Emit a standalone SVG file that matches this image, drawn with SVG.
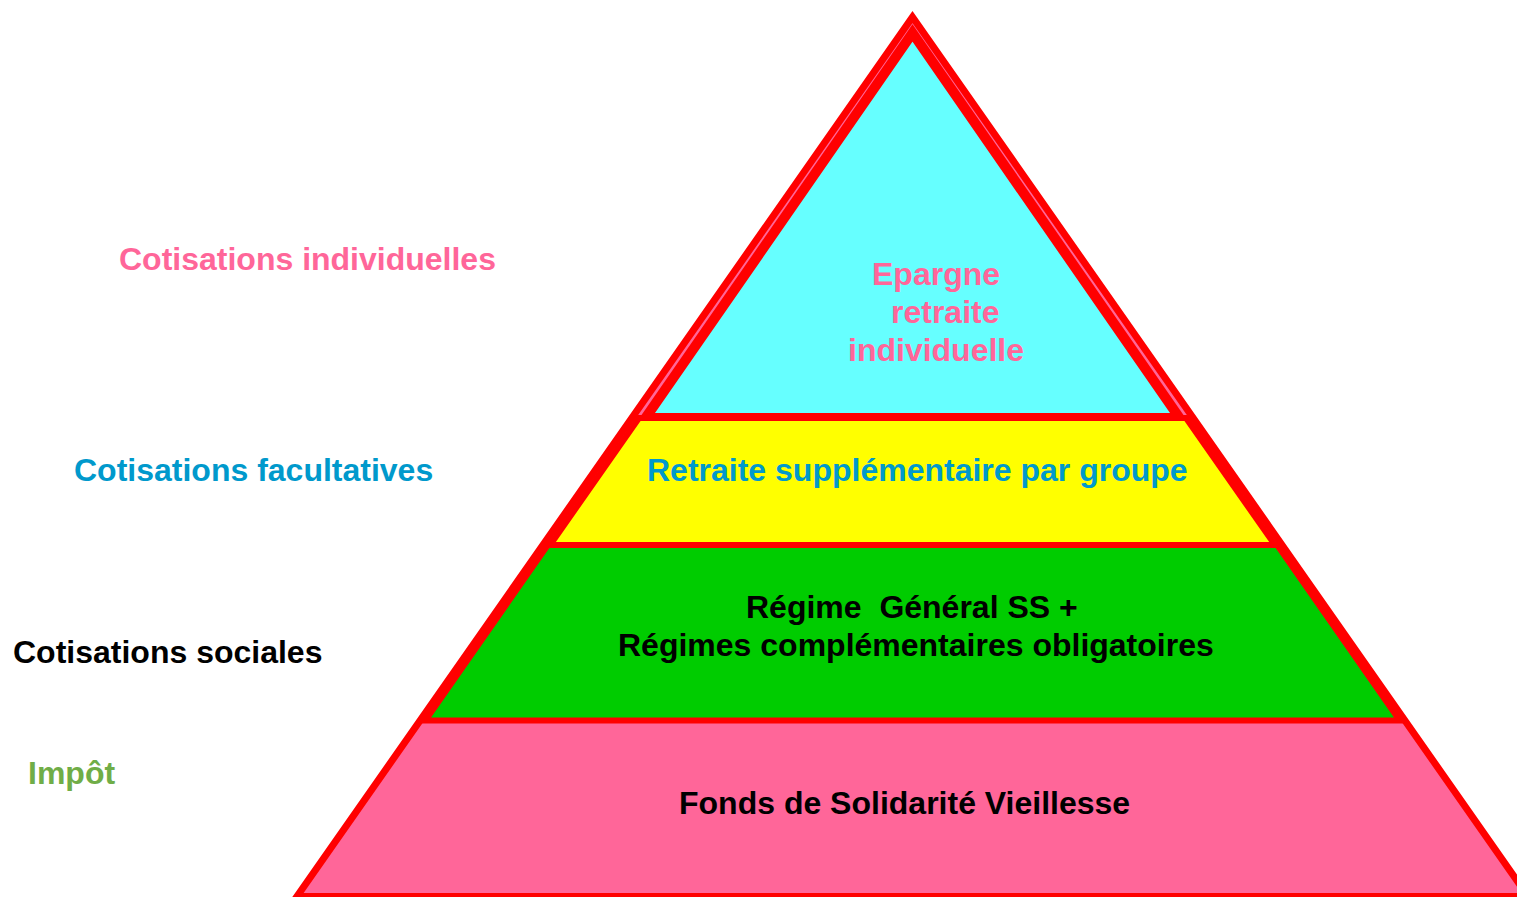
<svg xmlns="http://www.w3.org/2000/svg" width="1517" height="897" viewBox="0 0 1517 897">
  <style>
    .t { font-family: "Liberation Sans", Arial, sans-serif; font-weight: bold; font-size: 32px; }
    .edge { stroke: #FF0000; stroke-linejoin: miter; stroke-miterlimit: 10; }
    .pink { fill: #FF6699; }
    .blue { fill: #0099CC; }
    .black { fill: #000000; }
    .green { fill: #70AD47; }
  </style>
  <rect width="1517" height="897" fill="#FFFFFF"/>

  <g id="layer-fonds-solidarite">
    <polygon class="edge" points="912.5,17 296.9,896.5 1528.1,896.5" fill="#FF6699" stroke-width="7"/>
    <text class="t black" x="679" y="814">Fonds de Solidarité Vieillesse</text>
  </g>

  <g id="layer-regime-general">
    <polygon class="edge" points="547.8,545 1277.2,545 1399.7,720.5 425.3,720.5" fill="#00CC00" stroke-width="6"/>
    <text class="t black" x="746" y="618" xml:space="preserve">Régime  Général SS +</text>
    <text class="t black" x="618" y="656">Régimes complémentaires obligatoires</text>
  </g>

  <g id="layer-epargne-individuelle">
    <polygon class="edge" points="912.5,33 645.5,418 1179.5,418" fill="#66FFFF" stroke-width="10"/>
    <text class="t pink" x="872" y="285">Epargne</text>
    <text class="t pink" x="891" y="323">retraite</text>
    <text class="t pink" x="848" y="361">individuelle</text>
  </g>

  <g id="layer-retraite-groupe">
    <polygon class="edge" points="639,418 1186,418 1274.9,545 550.1,545" fill="#FFFF00" stroke-width="6"/>
    <text class="t blue" x="647" y="481">Retraite supplémentaire par groupe</text>
  </g>

  <g id="label-cotisations-individuelles">
    <text class="t pink" x="119" y="270">Cotisations individuelles</text>
  </g>
  <g id="label-cotisations-facultatives">
    <text class="t blue" x="74" y="481">Cotisations facultatives</text>
  </g>
  <g id="label-cotisations-sociales">
    <text class="t black" x="13" y="663">Cotisations sociales</text>
  </g>
  <g id="label-impot">
    <text class="t green" x="28" y="784">Impôt</text>
  </g>
</svg>
